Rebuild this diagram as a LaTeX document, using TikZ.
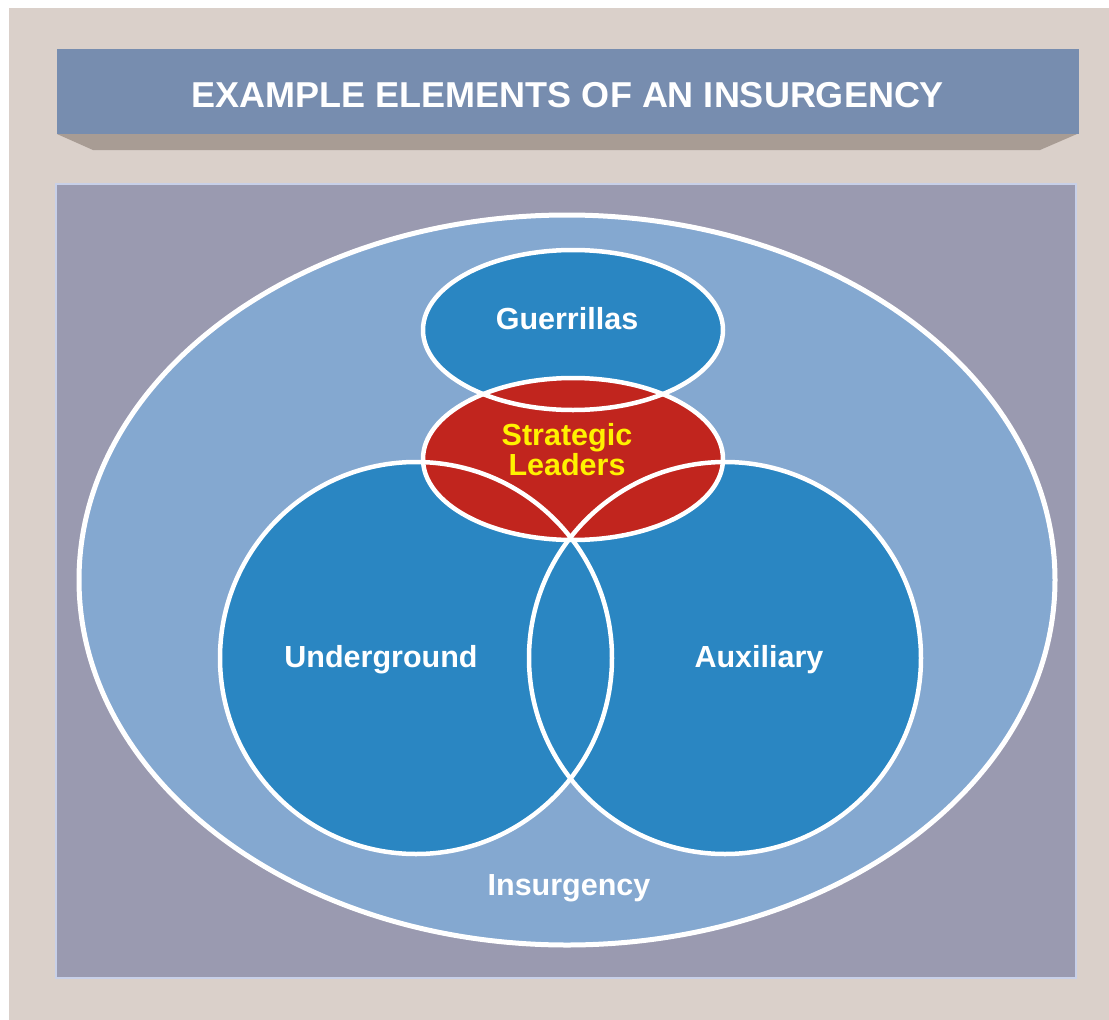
\documentclass[tikz,border=0pt]{standalone}
\usepackage{fontspec}
\setmainfont{Liberation Sans}
\definecolor{paper}{HTML}{DAD0CA}
\definecolor{banner}{HTML}{778DAF}
\definecolor{bannershadow}{HTML}{A89C94}
\definecolor{panel}{HTML}{9A9AB0}
\definecolor{panelline}{HTML}{C8D0E8}
\definecolor{insurgency}{HTML}{84A8D0}
\definecolor{element}{HTML}{2A86C2}
\definecolor{leaders}{HTML}{C1251E}
\definecolor{leadertext}{HTML}{FFF200}
\tikzset{
  label/.style={font=\bfseries\fontsize{30.5}{30}\selectfont, text=white, anchor=base, inner sep=0pt},
  outline/.style={draw=white, line width=4.5pt}
}
\begin{document}
\begin{tikzpicture}[x=1pt, y=-1pt]
  \useasboundingbox (0,0) rectangle (1109,1020);
  % Background
  \fill[paper] (9,8) rectangle (1109,1020);

  % Title banner
  \fill[bannershadow] (57,134) -- (1077,134) -- (1040,150) -- (93,150) -- cycle;
  \fill[banner] (57,49) rectangle (1079,134);
  \node[label, font=\bfseries\fontsize{36}{36}\selectfont] (title) at (568,107) {EXAMPLE ELEMENTS OF AN INSURGENCY};

  % Panel
  \draw[panelline, line width=2pt, fill=panel] (56,184) rectangle (1076,978);

  % Venn centres
  \coordinate (insurgency) at (567,580);
  \coordinate (guerrillas) at (573,330);
  \coordinate (leaders) at (573,459);
  \coordinate (underground) at (416,658);
  \coordinate (auxiliary) at (725,658);

  % Fills
  \fill[insurgency] (insurgency) ellipse [x radius=488pt, y radius=365pt];
  \fill[element] (guerrillas) ellipse [x radius=150pt, y radius=80pt];
  \fill[element] (underground) circle [radius=196pt];
  \fill[element] (auxiliary) circle [radius=196pt];
  \fill[leaders] (leaders) ellipse [x radius=150pt, y radius=81pt];

  % Outlines on top
  \draw[outline, line width=5pt] (insurgency) ellipse [x radius=488pt, y radius=365pt];
  \draw[outline] (guerrillas) ellipse [x radius=150pt, y radius=80pt];
  \draw[outline] (leaders) ellipse [x radius=150pt, y radius=81pt];
  \draw[outline] (underground) circle [radius=196pt];
  \draw[outline] (auxiliary) circle [radius=196pt];

  % Labels
  \node[label] (guerrillaslabel) at (567,329) {Guerrillas};
  \node[label, text=leadertext, align=center] (leaderslabel) at (567,475) {Strategic\\Leaders};
  \node[label] (undergroundlabel) at (381,667) {Underground};
  \node[label] (auxiliarylabel) at (759,667) {Auxiliary};
  \node[label] (insurgencylabel) at (569,895) {Insurgency};
\end{tikzpicture}
\end{document}
